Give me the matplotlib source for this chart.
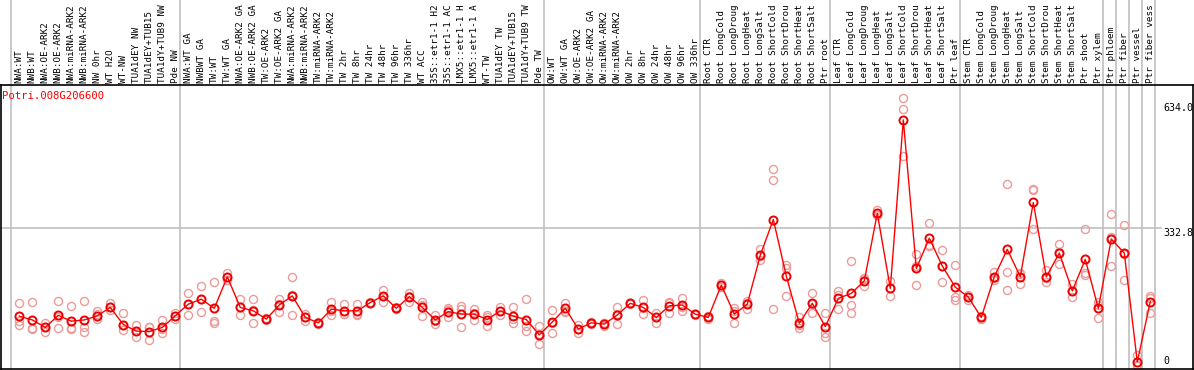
import matplotlib
matplotlib.use("Agg")
import matplotlib.pyplot as plt
from matplotlib.transforms import blended_transform_factory

# ---------------- data ----------------
gene_id = "Potri.008G206600"

# sample labels as shown in the chart header (long ones appear truncated there)
samples = [
    # group 1
    "NWA:WT", "NWB:WT", "NWA:OE-ARK2", "NWB:OE-ARK2", "NWA:miRNA-ARK2",
    "NWB:miRNA-ARK2", "NW 0hr", "WT H2O", "WT-NW", "TUA1dEY NW",
    "TUA1dEY+TUB15", "TUA1dY+TUB9 NW", "Pde NW",
    # group 2
    "NWA:WT GA", "NWBWT GA", "TW:WT", "TW:WT GA", "NWA:OE-ARK2 GA",
    "NWB:OE-ARK2 GA", "TW:OE-ARK2", "TW:OE-ARK2 GA", "NWA:miRNA-ARK2",
    "NWB:miRNA-ARK2", "TW:miRNA-ARK2", "TW:miRNA-ARK2", "TW 2hr", "TW 8hr",
    "TW 24hr", "TW 48hr", "TW 96hr", "TW 336hr", "WT ACC",
    "35S::etr1-1 H2", "35S::etr1-1 AC", "LMX5::etr1-1 H",
    "LMX5::etr1-1 A", "WT-TW", "TUA1dEY TW", "TUA1dEY+TUB15",
    "TUA1dY+TUB9 TW", "Pde TW",
    # group 3
    "OW:WT", "OW:WT GA", "OW:OE-ARK2", "OW:OE-ARK2 GA", "OW:miRNA-ARK2",
    "OW:miRNA-ARK2", "OW 2hr", "OW 8hr", "OW 24hr", "OW 48hr", "OW 96hr",
    "OW 336hr",
    # root
    "Root CTR", "Root LongCold", "Root LongDroug", "Root LongHeat",
    "Root LongSalt", "Root ShortCold", "Root ShortDrou", "Root ShortHeat",
    "Root ShortSalt", "Ptr root",
    # leaf
    "Leaf CTR", "Leaf LongCold", "Leaf LongDroug", "Leaf LongHeat",
    "Leaf LongSalt", "Leaf ShortCold", "Leaf ShortDrou", "Leaf ShortHeat",
    "Leaf ShortSalt", "Ptr leaf",
    # stem
    "Stem CTR", "Stem LongCold", "Stem LongDroug", "Stem LongHeat",
    "Stem LongSalt", "Stem ShortCold", "Stem ShortDrou", "Stem ShortHeat",
    "Stem ShortSalt", "Ptr shoot", "Ptr xylem",
    # single tissues
    "Ptr phloem", "Ptr fiber", "Ptr vessel", "Ptr fiber vess",
]

# group boundaries (index of first sample of each group, plus the end)
group_starts = [0, 13, 41, 53, 63, 73, 84, 85, 86, 87, 88]

mean_values = [
    120, 111, 93, 122, 108, 111, 121, 141, 100, 84, 83, 93, 121,
    149, 161, 139, 215, 141, 133, 113, 147, 169, 117, 104, 137, 133, 133,
    153, 169, 139, 167, 141, 111, 131, 125, 125, 112, 133, 120, 112, 75,
    106, 139, 89, 104, 101, 123, 151, 141, 117, 145, 147, 125,
    117, 195, 125, 149, 267, 353, 217, 103, 151, 95,
    163, 175, 205, 368, 187, 593, 235, 308, 241, 190,
    166, 117, 215, 281, 215, 394, 215, 272, 181, 257, 139,
    306, 272, 10, 155,
]

rep1 = [
    151, 155, 103, 157, 145, 157, 133, 151, 128, 99, 93, 112, 128,
    175, 193, 202, 223, 161, 161, 113, 161, 214, 125, 106, 155, 149, 150,
    155, 183, 141, 177, 155, 123, 140, 145, 137, 123, 143, 143, 161, 96,
    135, 153, 99, 106, 103, 143, 151, 159, 128, 155, 165, 125,
    120, 199, 139, 157, 282, 474, 243, 119, 175, 127,
    181, 253, 213, 376, 206, 645, 270, 344, 280, 243,
    171, 120, 227, 439, 221, 426, 231, 294, 198, 329, 155,
    366, 340, 27, 169,
]
rep2 = [
    108, 91, 81, 91, 91, 93, 126, 141, 87, 71, 63, 79, 121,
    123, 129, 109, 215, 123, 103, 115, 131, 123, 117, 104, 123, 125, 123,
    153, 155, 139, 155, 120, 101, 119, 93, 111, 96, 123, 104, 96, 53,
    80, 131, 79, 104, 96, 101, 152, 125, 104, 128, 133, 126,
    114, 195, 103, 137, 255, 448, 236, 91, 128, 79,
    137, 147, 193, 364, 169, 619, 195, 289, 203, 166,
    166, 117, 207, 226, 198, 424, 203, 246, 166, 223, 115,
    312, 270, 3, 163,
]
rep3 = [
    99, 88, 93, 118, 88, 83, 113, 136, 99, 84, 93, 88, 114,
    149, 161, 103, 207, 141, 135, 111, 149, 170, 109, 101, 133, 125, 126,
    151, 169, 137, 169, 148, 109, 134, 137, 127, 117, 133, 113, 85, 76,
    103, 133, 89, 101, 104, 125, 150, 139, 119, 152, 143, 124,
    117, 191, 133, 153, 264, 137, 169, 99, 150, 71,
    171, 128, 209, 365, 187, 507, 240, 291, 240, 159,
    159, 114, 212, 183, 225, 330, 212, 275, 180, 220, 147,
    241, 207, 0, 128,
]

y_ticks = [0, 332.8, 634.0]
y_tick_labels = ["0", "332.8", "634.0"]

# ---------------- layout ----------------
W, H = 1194, 370
fig = plt.figure(figsize=(W / 100, H / 100), dpi=100)

def fx(px):
    return px / W

def fy(py):
    return (H - py) / H

ax_left, ax_right, ax_top, ax_bot = 1, 1193, 85, 369
ax = fig.add_axes([fx(ax_left), fy(ax_bot), fx(ax_right - ax_left), (ax_bot - ax_top) / H])

# pixel mapping: x_px = 19.3 + 13 * i ; y_px = 366 - 0.415 * v
x0, dx = 19.3, 13.0
y0, sy = 366.0, 0.415
ax.set_xlim((ax_left - x0) / dx, (ax_right - x0) / dx)
ax.set_ylim((y0 - ax_bot) / sy, (y0 - ax_top) / sy)

ax.set_xticks([])
ax.set_yticks([])
for s in ax.spines.values():
    s.set_color("black")
    s.set_linewidth(1.2)

n = len(samples)
xs = list(range(n))

# vertical group separators (extend through the label area)
grid_col = "#c0c0c0"
for g in group_starts:
    ax.axvline(g - 0.62, ymin=0, ymax=(ax_bot - 0) / (ax_bot - ax_top),
               color=grid_col, lw=1.2, clip_on=False, zorder=0.5)

# horizontal gridline at the middle tick
hx_end = (1161 - x0) / dx
ax.plot([(ax_left - x0) / dx, hx_end], [y_ticks[1], y_ticks[1]],
        color=grid_col, lw=1.2, zorder=0.5, clip_on=False)

# replicate points
rep_col = "#ec9a9a"
for reps in (rep1, rep2, rep3):
    ax.plot(xs, reps, linestyle="none", marker="o", markersize=5.8,
            markerfacecolor="none", markeredgecolor=rep_col,
            markeredgewidth=1.0, zorder=2)

# mean line and markers
ax.plot(xs, mean_values, color="#ff0000", lw=1.0, zorder=3)
ax.plot(xs, mean_values, linestyle="none", marker="o", markersize=5.8,
        markerfacecolor="none", markeredgecolor="#ee0000",
        markeredgewidth=1.4, zorder=4)

# sample labels (rotated, above the plot)
trans = blended_transform_factory(ax.transData, fig.transFigure)
for i, lab in enumerate(samples):
    ax.text(i, fy(83), lab, rotation=90, rotation_mode="anchor",
            ha="left", va="center", fontsize=6.7, family="DejaVu Sans Mono",
            transform=trans, clip_on=False)

# gene id title
fig.text(fx(2), fy(91), gene_id, color="#ff0000", fontsize=7.7,
         family="DejaVu Sans Mono", ha="left", va="top")

# right-side value labels
fig.text(fx(1163), fy(103), y_tick_labels[2], fontsize=7.2,
         family="DejaVu Sans Mono", ha="left", va="top")
fig.text(fx(1163), fy(228), y_tick_labels[1], fontsize=7.2,
         family="DejaVu Sans Mono", ha="left", va="top")
fig.text(fx(1163), fy(366), y_tick_labels[0], fontsize=7.2,
         family="DejaVu Sans Mono", ha="left", va="bottom")

fig.savefig("out.png", dpi=100)
